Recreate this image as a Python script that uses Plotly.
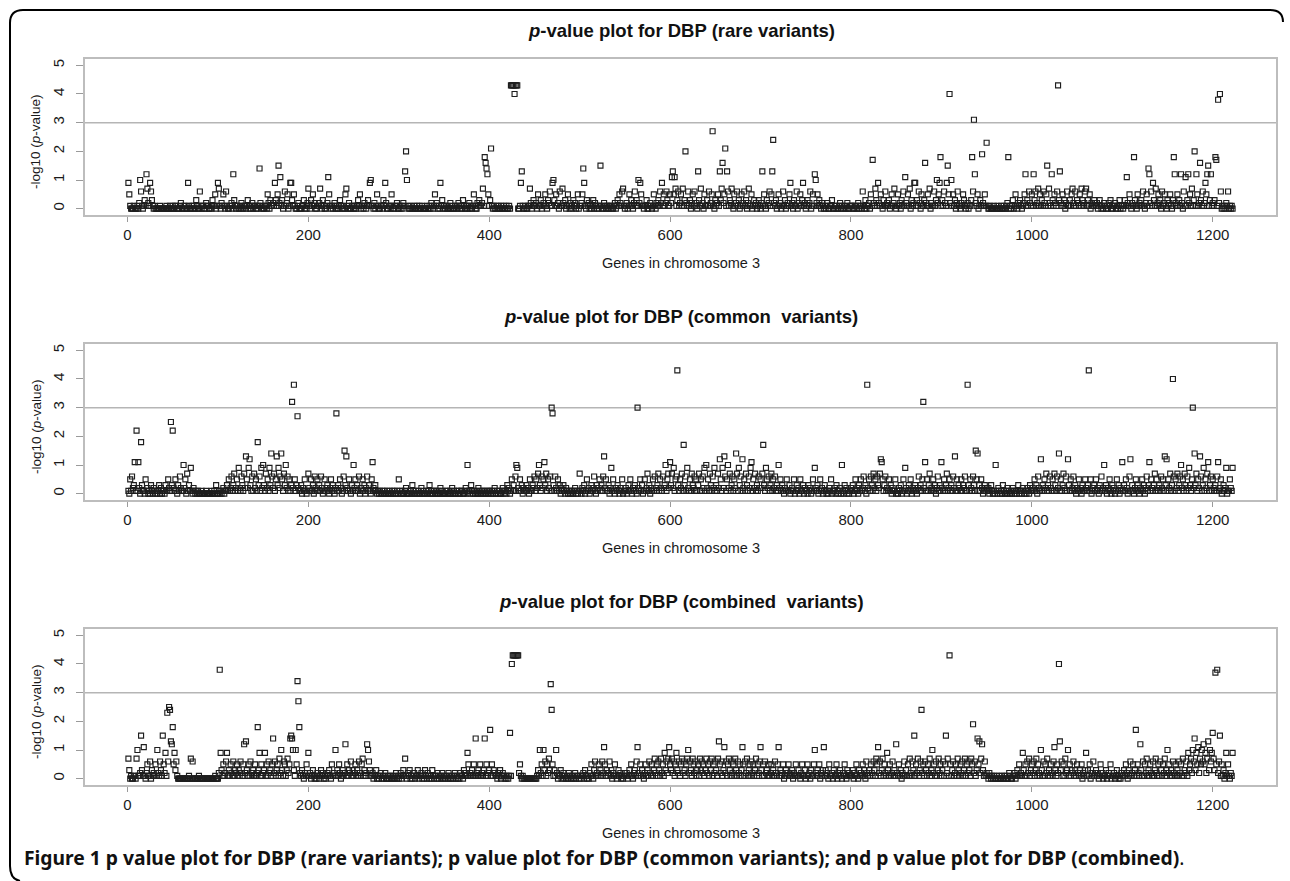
import plotly.graph_objects as go

# ---------------- data ----------------
# -log10(p-value) x 10 for genes 1..1222 of chromosome 3
rare_x10 = [
 9,5,1,0,0,0,1,0,0,0, 1,0,2,10,6,1,0,1,3,1, 12,7,2,1,9,6,3,1,0,1, 0,0,0,0,0,1,0,0,0,0, 0,0,1,0,0,0,1,0,0,1,
 0,0,1,1,0,0,0,1,2,0, 0,1,0,1,0,0,9,1,0,0, 1,0,1,0,0,3,1,0,0,6, 1,0,1,1,0,0,2,1,1,0, 0,1,0,3,1,1,5,0,1,9,
 7,1,0,2,1,5,1,0,6,1, 0,0,1,1,2,0,12,3,1,0, 1,1,0,0,1,2,0,0,1,1, 0,1,3,1,0,0,1,2,0,1, 1,0,0,1,1,14,2,0,1,0,
 0,1,1,0,5,2,0,3,1,1, 2,1,9,3,1,5,15,2,11,1, 3,0,1,6,1,2,5,0,1,9, 9,3,1,5,1,0,0,1,2,0, 0,0,1,1,3,0,1,0,2,7,
 1,0,3,1,5,1,2,0,0,1, 1,2,7,1,0,3,1,0,0,1, 2,11,5,1,0,1,0,1,2,0, 1,0,0,1,3,1,0,1,0,0, 5,7,1,0,2,0,0,1,1,0,
 0,1,0,1,3,1,5,0,1,1, 0,2,1,0,1,3,1,9,10,1, 1,0,2,0,1,5,1,0,0,1, 1,0,3,1,9,2,0,0,1,1, 0,5,1,0,0,1,1,2,0,0,
 1,0,1,0,2,1,13,20,10,1, 0,0,1,0,0,0,1,0,0,1, 0,0,1,0,0,1,0,0,0,0, 1,0,0,1,0,2,1,0,1,5, 1,2,0,1,0,9,1,3,0,1,
 0,1,0,1,0,0,2,0,1,0, 0,1,0,1,0,2,1,0,1,0, 3,1,0,0,1,1,0,2,0,1, 0,1,5,1,0,0,2,1,3,1, 1,2,7,1,18,16,14,12,5,1,
 3,21,1,0,1,0,0,1,0,1, 0,0,1,0,0,1,0,0,1,0, 0,1,0,43,43,43,43,40,43,43, 43,0,0,1,9,13,1,0,0,1, 0,0,1,1,7,2,0,1,3,1,
 1,2,0,5,1,1,3,0,1,2, 1,5,1,0,3,2,6,1,1,9, 10,3,1,5,1,2,0,6,1,1, 7,2,1,3,0,1,5,1,0,2, 1,0,3,1,2,0,1,5,0,1,
 1,2,5,14,9,1,0,3,1,2, 0,1,0,1,3,0,2,1,0,1, 0,1,15,1,0,0,2,1,0,1, 1,0,0,1,1,0,0,1,2,0, 1,3,1,5,2,1,6,7,1,0,
 1,2,0,1,5,1,3,1,0,2, 6,1,3,1,10,2,9,5,1,1, 0,1,1,3,0,0,1,2,1,0, 1,5,1,0,2,1,3,1,6,2, 9,1,5,1,2,6,3,1,1,5,
 2,11,13,5,11,7,1,3,6,1, 2,5,1,7,1,3,20,2,1,6, 1,3,0,2,5,1,6,1,2,0, 13,3,1,7,1,2,0,5,1,1, 3,1,6,1,2,5,27,1,0,3,
 1,2,5,1,13,3,7,16,2,5, 21,1,13,6,1,3,2,7,1,0, 5,1,2,6,1,3,0,1,5,2, 1,6,1,3,0,2,7,1,1,5, 0,1,3,1,2,0,1,3,1,0,
 2,13,1,5,1,0,3,1,2,6, 1,5,13,24,2,1,3,0,1,5, 1,2,0,1,6,1,3,0,1,2, 1,5,9,1,2,0,3,1,1,6, 0,2,1,5,1,3,9,1,2,0,
 1,3,1,2,6,0,1,5,1,12, 10,2,5,1,3,1,0,2,1,0, 1,0,1,2,0,0,1,1,3,0, 0,1,0,1,0,0,1,2,0,1, 0,1,0,1,0,2,0,0,1,1,
 1,0,0,1,0,1,0,2,0,1, 1,0,6,1,0,3,0,1,1,2, 0,5,1,17,2,1,7,3,1,9, 2,1,5,1,0,3,1,6,1,2, 1,3,0,1,5,1,2,7,1,0,
 1,5,1,2,0,3,1,6,1,11, 2,1,5,1,7,0,3,1,2,9, 9,1,3,1,6,2,0,5,1,1, 3,16,2,1,5,1,7,0,2,1, 1,6,1,3,10,2,5,9,18,1,
 3,1,6,2,1,9,15,5,40,2, 10,1,5,1,3,0,2,6,1,1, 0,2,1,5,3,1,0,1,2,0, 1,1,3,18,6,31,12,2,1,5, 0,1,3,1,19,2,1,5,1,23,
 1,0,0,1,0,0,0,1,0,0, 0,1,0,0,0,1,0,0,1,0, 0,1,2,18,0,1,0,1,3,0, 1,5,1,0,2,1,3,1,0,1, 2,5,12,1,3,1,6,2,1,5,
 1,12,3,6,1,2,7,1,5,1, 3,1,6,2,1,5,15,1,7,2, 1,12,3,1,5,2,1,6,43,3, 13,2,1,5,1,3,0,2,6,1, 1,3,1,5,7,2,1,6,1,3,
 2,1,5,1,7,3,1,2,6,7, 1,3,1,5,0,2,1,1,3,2, 1,2,0,1,3,1,0,1,0,2, 1,0,1,0,2,1,3,0,0,1, 1,2,0,1,0,1,3,0,1,1,
 0,1,3,1,11,2,1,5,1,0, 2,1,18,3,1,0,5,1,2,1, 3,1,6,1,0,2,5,1,14,12, 2,6,1,9,3,1,7,1,2,5, 1,3,0,6,1,2,5,1,0,3,
 1,2,5,1,0,3,18,12,2,1, 5,1,3,1,12,2,0,6,1,11, 1,3,12,2,5,1,7,1,3,20, 1,12,5,1,2,16,3,1,6,1, 2,9,5,12,15,1,3,12,1,2,
 1,3,18,17,1,38,2,40,6,0, 1,0,1,0,2,1,6,0,1,0, 1,0,
]

common_x10 = [
 1,0,5,1,6,2,3,11,1,22, 1,11,2,0,18,3,1,1,0,5, 1,2,0,1,0,3,1,0,2,1, 0,1,0,1,3,0,2,0,1,1, 0,3,1,1,5,2,1,25,3,22,
 2,1,5,1,0,3,1,6,2,1, 1,10,2,5,0,7,1,3,1,9, 1,0,2,1,0,1,0,1,0,0, 0,1,0,0,0,0,1,0,0,0, 0,0,1,0,0,1,0,3,0,0,
 1,0,1,0,1,2,0,1,1,3, 1,5,1,2,6,1,3,7,1,2, 5,1,9,2,1,6,3,1,7,2, 13,5,2,9,12,3,1,6,1,7, 2,5,1,18,3,6,1,9,2,10,
 3,1,7,2,5,1,9,3,14,6, 2,7,1,5,13,3,9,2,6,14, 5,1,7,3,10,2,6,1,5,1, 3,32,2,38,5,1,3,27,2,1, 1,3,0,2,1,5,1,0,1,7,
 2,1,5,1,3,0,6,2,1,5, 1,3,1,6,2,0,1,5,1,2, 3,1,0,2,5,1,3,1,0,2, 28,1,3,1,5,2,0,1,6,15, 3,13,2,1,5,1,0,3,1,10,
 2,5,1,3,1,6,0,2,1,5, 1,3,0,2,6,1,3,1,0,5, 11,2,1,3,1,0,1,0,1,0, 0,1,0,1,0,0,1,0,0,1, 0,0,1,0,1,0,0,1,0,5,
 1,0,0,1,0,0,1,2,0,0, 0,1,0,0,3,1,0,0,1,0, 0,1,0,0,2,0,1,0,0,1, 0,0,1,3,0,0,1,0,1,0, 1,0,0,1,0,2,0,1,0,0,
 0,1,0,1,0,0,1,0,2,0, 1,0,0,1,0,1,0,0,1,1, 0,0,1,2,0,10,1,1,0,3, 1,0,1,0,1,0,0,2,0,1, 0,1,0,1,0,0,1,0,1,0,
 1,0,1,0,1,2,0,0,1,0, 1,0,0,1,2,0,1,1,0,3, 1,2,0,1,5,1,3,1,6,10, 9,2,1,5,1,3,0,2,1,1, 3,1,2,0,5,1,1,3,2,6,
 1,5,2,7,10,3,1,6,2,5, 11,3,7,1,5,2,6,1,30,28, 3,1,6,2,1,5,1,3,0,2, 1,3,1,0,2,1,0,1,0,1, 0,1,0,1,2,0,1,0,1,7,
 1,0,2,1,3,0,1,5,1,2, 0,1,3,1,2,6,1,0,3,1, 2,5,1,3,1,6,13,2,5,1, 1,3,0,2,9,1,5,1,0,2, 1,3,1,0,2,1,5,0,1,1,
 2,0,1,3,1,5,1,0,2,1, 3,1,0,30,2,1,5,1,3,0, 1,5,1,2,7,1,3,0,2,1, 5,1,6,2,1,3,7,1,5,2, 1,6,2,3,10,1,5,7,2,11,
 3,7,2,9,1,5,6,43,3,1, 5,2,7,1,17,3,6,1,9,2, 1,5,1,7,3,2,6,1,5,1, 3,7,1,5,1,6,2,9,1,10, 2,5,1,7,3,1,6,2,9,1,
 3,1,7,2,12,5,1,9,2,13, 6,1,5,10,2,7,1,3,6,1, 5,2,14,7,1,9,3,6,1,12, 2,5,1,7,3,1,6,2,9,11, 1,5,2,7,1,3,1,6,2,5,
 2,7,17,3,1,9,5,2,6,1, 3,7,1,5,2,6,1,3,1,10, 2,5,1,3,1,0,2,1,5,1, 1,3,0,1,2,1,5,0,1,3, 1,2,0,5,1,1,3,0,2,1,
 1,0,3,1,2,0,1,5,1,9, 2,1,3,0,1,5,1,2,0,1, 3,1,0,1,0,2,1,5,0,1, 1,2,0,3,1,0,1,2,0,10, 1,0,3,1,2,0,1,0,1,2,
 1,3,0,1,5,1,2,0,3,1, 5,1,2,6,1,3,0,38,2,5, 1,6,3,1,7,2,5,1,6,3, 2,7,12,11,5,1,3,6,1,2, 1,5,1,3,0,2,1,1,5,0,
 1,0,2,1,3,0,1,5,1,9, 2,0,1,3,1,5,0,2,1,1, 3,1,0,2,6,1,3,1,5,32, 2,11,1,5,1,3,7,1,2,1, 5,1,3,0,2,6,1,3,1,11,
 2,1,5,1,3,7,1,2,5,1, 3,1,6,2,13,1,5,1,3,2, 1,5,1,3,2,6,1,1,38,3, 1,5,2,1,6,3,1,15,5,14, 1,3,1,5,2,0,1,3,1,2,
 1,2,0,1,3,1,0,1,0,10, 1,0,2,1,0,1,0,3,1,0, 0,1,2,0,1,0,1,0,2,1, 0,1,0,1,3,0,1,1,0,2, 1,0,1,0,2,1,0,3,1,1,
 2,1,5,1,3,0,6,2,1,12, 1,3,1,5,2,7,1,3,1,6, 2,1,5,1,7,3,1,6,2,14, 1,5,1,3,7,2,1,6,1,12, 3,1,5,1,2,6,1,3,0,2,
 1,5,1,2,0,3,1,1,5,2, 1,3,43,1,5,0,2,1,3,1, 5,1,2,0,3,1,6,1,2,10, 1,3,0,2,1,5,1,0,3,1, 2,0,1,5,1,3,0,2,1,11,
 1,3,1,5,2,0,1,6,12,1, 3,1,0,2,5,1,3,1,0,2, 1,5,1,3,0,2,6,1,3,11, 1,5,2,1,3,7,1,5,1,2, 3,1,6,2,5,1,13,3,12,1,
 5,2,7,1,3,40,6,1,5,2, 7,1,3,6,10,2,5,1,7,3, 1,6,2,9,3,1,5,30,2,14, 3,7,1,5,2,13,6,1,3,9, 1,5,2,7,11,1,3,6,1,5,
 2,1,3,1,6,11,1,2,5,0, 1,3,1,2,9,0,1,1,5,2, 1,9,
]

combined_x10 = [
 7,3,0,1,0,0,1,1,0,7, 10,1,1,2,15,3,1,11,1,0, 2,5,1,1,6,0,3,1,2,1, 5,1,10,2,1,6,3,1,15,5, 2,9,1,23,6,25,24,13,12,18,
 5,9,3,6,1,0,0,0,0,0, 0,0,0,0,0,0,0,1,0,7, 0,6,0,0,0,0,0,0,1,0, 0,0,0,0,0,0,0,0,0,0, 0,0,0,0,0,0,1,0,0,0,
 2,38,9,3,1,5,1,2,6,9, 1,3,1,5,2,1,6,1,3,2, 5,1,3,1,6,2,1,5,12,2, 13,3,1,5,1,6,2,1,3,1, 5,1,2,18,3,9,1,5,1,2,
 3,9,1,5,1,6,2,3,1,5, 14,2,6,1,3,5,1,7,2,10, 3,1,6,5,1,3,7,2,5,14, 15,14,10,3,1,10,5,34,27,18, 2,1,3,1,0,2,1,5,1,9,
 1,2,0,1,3,1,0,1,0,2, 1,0,1,3,1,2,0,1,0,1, 2,1,3,1,0,5,1,2,1,10, 1,3,1,5,2,0,1,3,1,2, 12,1,5,1,3,2,6,1,3,1,
 2,5,1,3,1,6,2,1,5,7, 1,3,1,2,12,10,6,3,1,1, 2,0,1,1,3,0,1,0,1,2, 0,1,0,1,2,0,0,1,0,1, 0,1,0,0,1,0,2,0,1,0,
 1,2,0,1,3,1,7,1,0,2, 1,3,0,1,0,1,2,0,1,1, 3,0,1,1,2,0,1,0,3,1, 0,2,1,0,1,0,3,1,0,1, 1,0,2,0,1,1,0,2,0,1,
 0,1,1,0,2,0,1,0,1,0, 1,2,0,1,0,1,0,2,1,1, 0,3,1,2,1,9,5,1,2,1, 3,1,5,1,14,2,1,3,1,5, 1,2,1,3,14,1,5,1,2,3,
 17,1,5,1,3,2,1,1,0,2, 1,3,0,1,2,1,0,1,0,1, 0,1,16,1,40,43,43,43,43,43, 43,43,2,5,1,0,1,0,0,0, 0,0,0,0,0,0,0,0,0,0,
 0,0,1,3,1,10,2,5,1,10, 3,6,1,5,2,7,3,33,24,5, 1,3,1,10,2,0,1,1,3,0, 1,2,0,1,0,1,0,2,1,0, 1,0,1,0,2,0,1,1,0,1,
 0,1,1,2,0,3,1,0,1,0, 2,1,5,1,0,3,6,1,2,1, 5,1,3,1,6,2,11,5,1,3, 1,2,6,1,3,0,2,1,5,1, 0,1,3,1,2,0,1,0,1,2,
 1,2,0,1,3,1,5,1,0,2, 3,1,6,11,2,1,5,1,3,1, 0,2,5,1,3,1,6,2,1,5, 1,3,7,2,5,1,6,3,1,7, 2,5,1,9,3,6,2,7,11,5,
 3,7,2,6,1,5,9,3,2,6, 1,5,7,2,6,3,1,5,7,10, 2,6,3,1,7,5,2,6,1,3, 5,1,7,3,6,2,5,1,3,7, 2,5,1,6,3,7,1,5,2,6,
 3,1,7,13,5,2,6,1,3,11, 2,6,1,5,7,3,1,6,2,5, 1,7,3,1,6,2,5,1,3,11, 5,1,6,2,7,1,3,5,1,6, 2,5,1,3,7,1,5,2,6,11,
 3,1,5,1,6,2,3,1,5,1, 2,5,1,3,1,6,2,1,5,11, 1,3,1,2,5,0,1,3,1,2, 5,1,2,1,3,0,2,1,5,1, 1,3,1,0,2,5,1,1,3,0,
 1,5,1,2,0,3,1,1,5,10, 2,1,3,1,5,0,2,1,3,11, 1,3,1,2,0,5,1,1,2,0, 3,1,1,5,0,2,1,3,1,0, 2,1,5,1,0,3,1,2,1,1,
 1,3,0,2,1,5,1,0,3,1, 2,1,5,1,3,0,6,2,1,3, 1,5,2,1,6,3,1,7,5,11, 2,6,1,3,7,1,5,2,1,9, 3,1,5,1,2,6,1,3,1,12,
 2,1,5,1,3,0,2,1,6,1, 3,1,5,1,7,2,1,6,3,15, 1,5,2,7,1,3,6,24,2,5, 1,6,3,1,5,2,7,1,3,10, 2,5,1,6,1,3,7,2,5,1,
 3,6,1,5,15,2,7,1,43,5, 1,3,6,1,2,5,1,7,3,1, 5,2,6,1,3,7,1,5,2,6, 3,1,7,5,19,2,6,1,3,14, 5,13,2,7,12,3,1,6,1,2,
 1,0,2,1,0,1,0,1,0,0, 1,0,0,1,0,0,1,0,0,1, 0,1,0,0,2,1,0,0,1,1, 2,0,1,3,1,5,1,2,1,9, 3,1,5,1,6,2,7,1,3,5,
 2,6,1,3,7,1,5,2,1,10, 3,1,6,1,5,2,7,1,3,1, 5,2,1,6,11,3,1,5,2,40, 13,3,6,1,5,1,7,2,3,10, 1,5,1,3,2,6,1,3,1,5,
 2,1,3,1,5,0,2,1,3,9, 1,3,1,5,0,2,1,6,1,2, 3,1,2,0,1,5,1,2,0,1, 1,3,0,1,2,1,5,0,1,1, 2,0,1,3,1,0,1,0,2,1,
 1,3,1,5,2,0,3,1,6,1, 2,5,1,3,17,1,5,2,1,12, 3,1,6,1,5,2,7,1,3,1, 5,2,1,6,1,3,7,2,1,5, 1,6,3,1,5,2,7,1,3,10,
 2,5,1,3,1,6,2,1,5,1, 3,1,6,2,5,1,7,1,3,2, 6,1,9,3,5,7,2,10,6,14, 3,9,5,11,2,7,5,10,6,12, 5,9,2,7,13,3,10,6,9,16,
 7,3,37,5,38,2,6,15,1,5, 1,3,0,2,9,1,5,1,0,2, 1,9,
]

panel_titles = [
    "<i>p</i>-value plot for DBP (rare variants)",
    "<i>p</i>-value plot for DBP (common\u00a0 variants)",
    "<i>p</i>-value plot for DBP (combined\u00a0 variants)",
]
x_axis_title = "Genes in chromosome 3"
y_axis_title = "-log10 (<i>p</i>-value)"
x_tick_values = [0, 200, 400, 600, 800, 1000, 1200]
y_tick_values = [0, 1, 2, 3, 4, 5]
threshold = 3
caption_bold = "Figure 1"
caption_text = ("p value plot for DBP (rare variants); p value plot for DBP (common variants); "
                "and p value plot for DBP (combined)")

series = [
    [v / 10 for v in rare_x10],
    [v / 10 for v in common_x10],
    [v / 10 for v in combined_x10],
]

# ---------------- layout (pixels) ----------------
W, H = 1290, 881
def fx(px):
    return px / W
def fy(py):
    return 1 - py / H

box_left, box_right = 85, 1276
box_tops = [59, 344, 629]
box_h = 156

AX_FONT = "Liberation Sans, Arial, Helvetica, sans-serif"
fig = go.Figure()
annotations = []
shapes = []

for i, vals in enumerate(series):
    n = i + 1
    xa = "x" if n == 1 else f"x{n}"
    ya = "y" if n == 1 else f"y{n}"
    genes = list(range(1, len(vals) + 1))
    fig.add_trace(go.Scatter(
        x=genes, y=vals, mode="markers", xaxis=xa, yaxis=ya,
        marker=dict(symbol="square-open", size=5, color="#1e1e1e",
                    line=dict(width=1.15, color="#1e1e1e")),
        hoverinfo="x+y", showlegend=False,
    ))
    top = box_tops[i]
    bot = top + box_h
    common_axis = dict(showline=True, mirror=True, linecolor="#bdbdbd", linewidth=1.5,
                       showgrid=False, zeroline=False, ticks="outside",
                       tickcolor="#9a9a9a", tickwidth=1,
                       tickfont=dict(family=AX_FONT, size=15, color="#1a1a1a"))
    fig.layout[f"xaxis{'' if n == 1 else n}"] = dict(
        common_axis, domain=[fx(box_left), fx(box_right)], range=[-47, 1270],
        tickvals=x_tick_values, ticklen=5, anchor=ya, ticklabelstandoff=0)
    fig.layout[f"yaxis{'' if n == 1 else n}"] = dict(
        common_axis, domain=[fy(bot), fy(top)], range=[-0.22, 5.22],
        tickvals=y_tick_values, ticklen=7, tickangle=-90, anchor=xa,
        ticklabelstandoff=6)
    shapes.append(dict(type="line", xref=f"{xa} domain", yref=ya, x0=0, x1=1,
                       y0=threshold, y1=threshold, layer="below",
                       line=dict(color="#b5b5b5", width=1.5)))
    annotations.append(dict(text=f"<b>{panel_titles[i]}</b>", x=fx(681), y=fy(top - 28),
                            xref="paper", yref="paper", showarrow=False,
                            xanchor="center", yanchor="middle",
                            font=dict(family=AX_FONT, size=18.5, color="#111111")))
    annotations.append(dict(text=x_axis_title, x=fx(681), y=fy(bot + 48),
                            xref="paper", yref="paper", showarrow=False,
                            xanchor="center", yanchor="middle",
                            font=dict(family=AX_FONT, size=14.5, color="#1a1a1a")))
    annotations.append(dict(text=y_axis_title, x=fx(36), y=fy(top + box_h / 2 + 5),
                            xref="paper", yref="paper", showarrow=False, textangle=-90,
                            xanchor="center", yanchor="middle",
                            font=dict(family=AX_FONT, size=13.5, color="#1a1a1a")))

annotations.append(dict(text=f"<b>{caption_bold} {caption_text}</b>.", x=fx(22), y=fy(857),
                        xref="paper", yref="paper", showarrow=False,
                        xanchor="left", yanchor="middle",
                        font=dict(family="Noto Sans, Open Sans, sans-serif", size=19.3,
                                  color="#111111")))

frame_path = (f"M {fx(20)},{fy(881)} Q {fx(10)},{fy(879)} {fx(10)},{fy(866)} "
              f"L {fx(10)},{fy(23)} Q {fx(10)},{fy(10)} {fx(23)},{fy(10)} "
              f"L {fx(1270)},{fy(10)} Q {fx(1283)},{fy(10)} {fx(1283)},{fy(22)}")
shapes.append(dict(type="path", xref="paper", yref="paper", path=frame_path,
                   line=dict(color="#000000", width=2)))

fig.update_layout(width=W, height=H, margin=dict(l=0, r=0, t=0, b=0),
                  plot_bgcolor="white", paper_bgcolor="white",
                  annotations=annotations, shapes=shapes, showlegend=False)

fig.write_html("out.html", config={"displayModeBar": False},
               post_script="document.body.style.margin='0';")
